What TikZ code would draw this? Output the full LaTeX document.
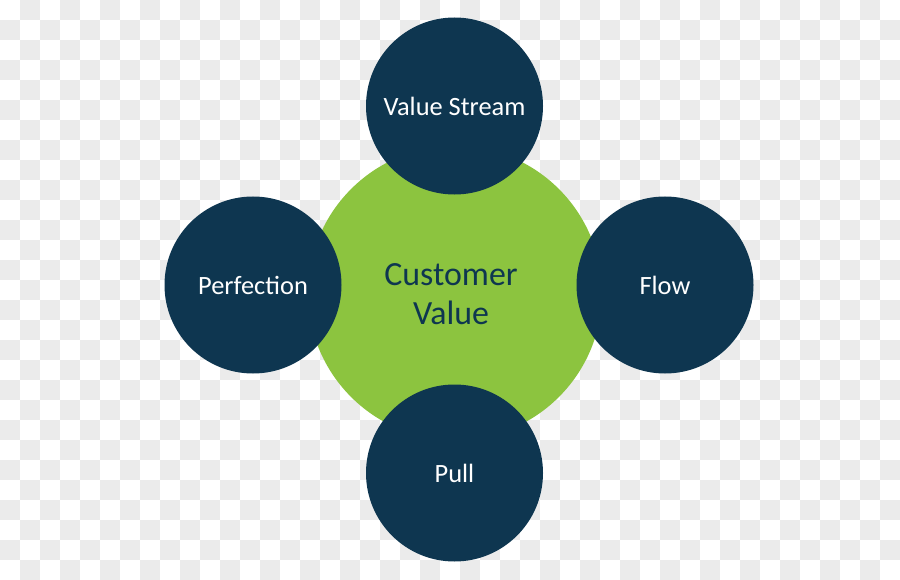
\documentclass[tikz,border=0pt]{standalone}
\usepackage{fontspec}
\setmainfont{Carlito}
\usepackage{tikz}
\usetikzlibrary{positioning}

\definecolor{leannavy}{HTML}{0E3650}
\definecolor{leangreen}{HTML}{8CC43F}
\definecolor{checkgray}{HTML}{EBEBEB}

\begin{document}
\begin{tikzpicture}[x=1bp, y=-1bp,
    core/.style={circle, fill=leangreen, minimum size=294bp, inner sep=0pt},
    pillar/.style={circle, fill=leannavy, minimum size=177bp, inner sep=0pt,
        text=white, font=\fontsize{26.5}{30}\selectfont},
]

% Canvas
\useasboundingbox (0,0) rectangle (900,580);

% Checkered background
\foreach \i in {0,...,44}
  \foreach \j in {0,...,28} {
    \ifodd\numexpr\i+\j\relax
      \fill[checkgray] (20*\i,20*\j) rectangle ++(20,20);
    \fi
  }

% --- Centre
\node[core] (value) at (455,293) {};
\node[text=leannavy, font=\fontsize{34}{39}\selectfont, align=center] (valuetext) at (451,294) {Customer\\Value};

% --- Principles around it
\node[pillar] (stream) at (454.5,106) {Value Stream};
\node[pillar] (flow) at (665,285) {Flow};
\node[pillar] (pull) at (454.5,473) {Pull};
\node[pillar] (perfection) at (253,285) {Perfection};

\end{tikzpicture}
\end{document}
